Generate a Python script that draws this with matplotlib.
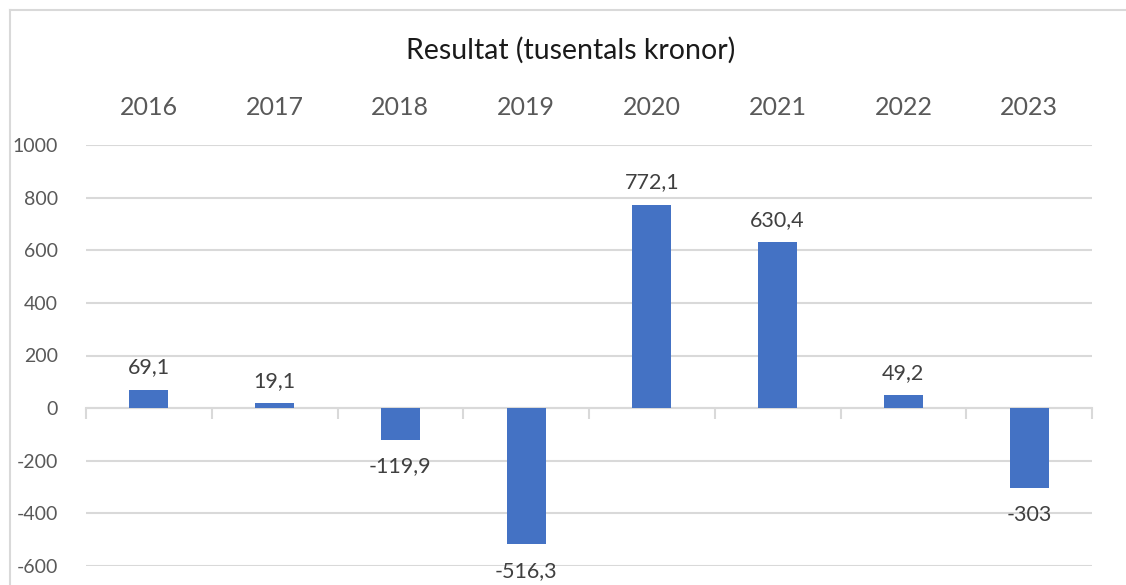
import numpy as np
import matplotlib
matplotlib.use('Agg')
import matplotlib.pyplot as plt
from matplotlib.lines import Line2D

# ── Data ──
years = ['2016', '2017', '2018', '2019', '2020', '2021', '2022', '2023']
result = [69.1, 19.1, -119.9, -516.3, 772.1, 630.4, 49.2, -303]
labels = ['69,1', '19,1', '-119,9', '-516,3', '772,1', '630,4', '49,2', '-303']
y_ticks = [-600, -400, -200, 0, 200, 400, 600, 800, 1000]

BAR = '#4472C4'
GRID = '#D9D9D9'
TXT = '#595959'

plt.rcParams['font.family'] = ['Lato', 'DejaVu Sans']

fig = plt.figure(figsize=(11.26, 5.85), dpi=100)
ax = fig.add_axes([86 / 1126, 1 - 566 / 585, 1006 / 1126, 421 / 585])

x = np.arange(len(years))
ax.bar(x, result, width=0.31, color=BAR, zorder=3)

ax.set_xlim(-0.5, len(years) - 0.5)
ax.set_ylim(-600, 1000)
ax.set_yticks(y_ticks)
ax.set_yticklabels([str(v) for v in y_ticks])
ax.yaxis.grid(True, color=GRID, linewidth=1.5, zorder=0)

# category labels on top, zero line with tick marks at category boundaries
ax.set_xticks(x)
ax.set_xticklabels(years)
ax.set_xticks(np.arange(len(years) + 1) - 0.5, minor=True)
ax.tick_params(axis='x', which='major', top=False, bottom=False,
               labeltop=True, labelbottom=False, length=0, pad=19,
               labelsize=18, labelcolor=TXT)
ax.tick_params(axis='x', which='minor', bottom=True, top=False,
               direction='out', length=8, width=1.5, color=GRID)
ax.tick_params(axis='y', length=0, pad=20, labelsize=14, labelcolor=TXT)

for s in ['top', 'left', 'right']:
    ax.spines[s].set_visible(False)
ax.spines['bottom'].set_position(('data', 0))
ax.spines['bottom'].set_color(GRID)
ax.spines['bottom'].set_linewidth(1.5)
ax.spines['bottom'].set_zorder(2)

# data labels
for xi, v, lab in zip(x, result, labels):
    off = 9 if v >= 0 else -12
    ax.annotate(lab, (xi, v), xytext=(0, off), textcoords='offset points',
                ha='center', va='bottom' if v >= 0 else 'top',
                fontsize=15.5, color='#404040', annotation_clip=False)

fig.text(571 / 1126, 1 - 50 / 585, 'Resultat (tusentals kronor)',
         ha='center', va='center', fontsize=20.5, color='#1a1a1a')

# chart border (cropped at right and bottom)
fig.add_artist(Line2D([10 / 1126, 1], [1 - 10 / 585, 1 - 10 / 585],
                      transform=fig.transFigure, color=GRID, linewidth=1.5))
fig.add_artist(Line2D([10 / 1126, 10 / 1126], [0, 1 - 10 / 585],
                      transform=fig.transFigure, color=GRID, linewidth=1.5))

fig.savefig('out.png', dpi=100)
